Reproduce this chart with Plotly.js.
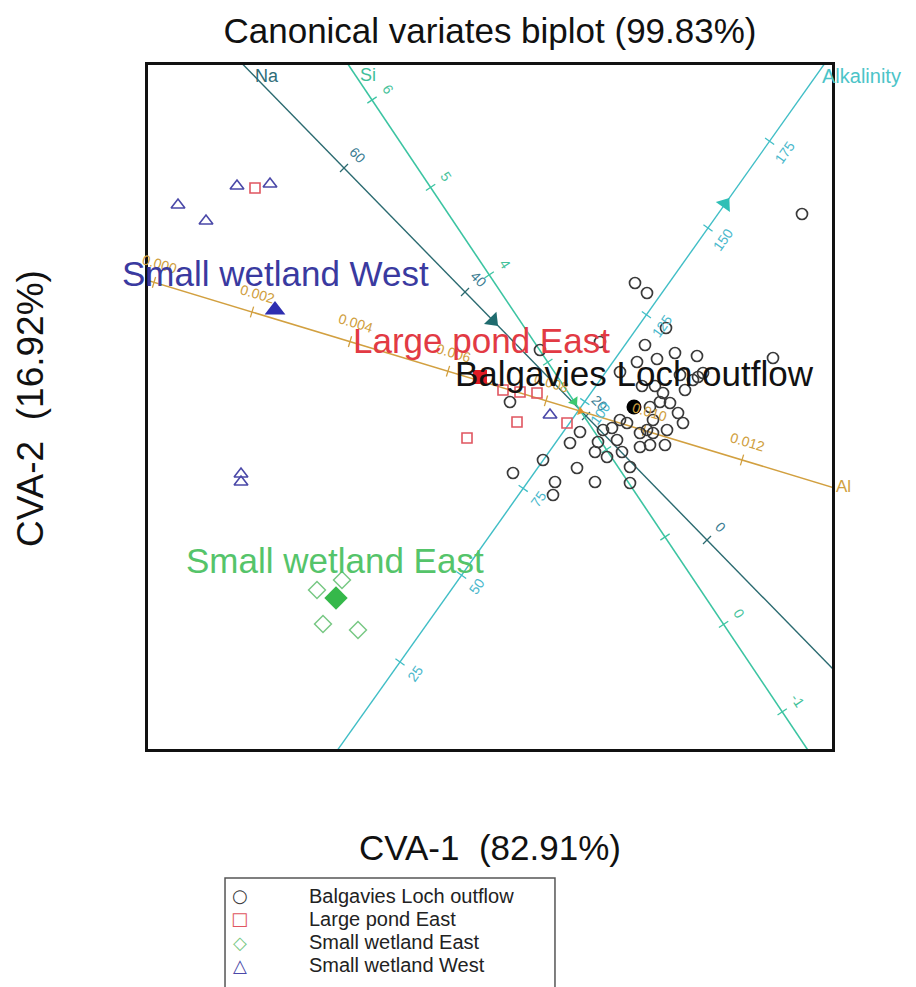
<!DOCTYPE html>
<html>
<head>
<meta charset="utf-8">
<script src="https://cdn.plot.ly/plotly-3.0.1.min.js"></script>
<style>html,body{margin:0;padding:0;background:#fff;}</style>
</head>
<body>
<div id="chart" style="width:916px;height:987px;"></div>
<script>
// ---- Sample scores (CVA-1, CVA-2) ----
const bloX = [3.12,1.45,1.57,1.76,1.55,1.10,0.50,1.47,1.67,1.85,2.07,2.83,1.30,1.90,2.08,1.52,1.65,1.73,1.95,2.13,0.20,1.80,1.70,1.88,1.93,1.63,1.37,1.30,1.13,1.22,1.50,1.63,1.77,1.57,1.08,1.50,1.60,1.05,1.17,1.32,1.40,1.40,1.05,0.87,0.65,0.63,0.53,0.23,2.03,0.90,0.80,1.60,1.75,1.27];
const bloY = [1.93,1.24,1.14,0.79,0.62,0.65,0.57,0.45,0.48,0.54,0.51,0.49,0.35,0.32,0.30,0.21,0.21,0.14,0.17,0.34,0.05,0.04,0.05,-0.06,-0.16,-0.13,-0.16,-0.13,-0.23,-0.21,-0.26,-0.26,-0.23,-0.23,-0.35,-0.40,-0.38,-0.45,-0.50,-0.45,-0.60,-0.76,-0.75,-0.61,-0.75,-0.88,-0.53,-0.66,0.27,-0.25,-0.36,0.00,-0.38,-0.33];
const lpeX = [-2.35,0.13,0.30,0.47,0.27,-0.23,0.77];
const lpeY = [2.19,0.17,0.15,0.14,-0.15,-0.31,-0.16];
const sweX = [-1.73,-1.48,-1.67,-1.32];
const sweY = [-1.83,-1.73,-2.17,-2.23];
const swwX = [-2.53,-2.20,-3.12,-2.84,-2.49,-2.49,0.60];
const swwY = [2.21,2.23,2.02,1.86,-0.67,-0.75,-0.08];

// ---- Group means ----
const groups = ['Balgavies Loch outflow','Large pond East','Small wetland East','Small wetland West'];
const meanX = [1.44,-0.10,-1.54,-2.15];
const meanY = [0.00,0.30,-1.91,0.97];
const groupLabelX = [1.44,-0.09,-1.55,-2.15];
const groupLabelY = [0.34,0.67,-1.53,1.34];

// ---- Biplot axes (calibrated variable axes) ----
const naTicks = [0,20,40,60];
const naLabels = ['0','20','40','60'];
const naOrigin = [2.17,-1.33], naStep = [-0.0605,0.062], naRange = [-30,90], naArrow = 35.4;

const siTicks = [-1,0,1,2,3,4,5,6];
const siLabels = ['-1','0','','','','4','5','6'];
const siOrigin = [2.336,-2.174], siStep = [-0.586,0.874], siRange = [-2,8], siArrow = 2.55;

const alkTicks = [25,50,75,100,125,150,175];
const alkLabels = ['25','50','75','100','125','150','175'];
const alkOrigin = [-1.516,-3.418], alkStep = [0.02464,0.03472], alkRange = [-10,197.5], alkArrow = 156.9;

const alTicks = [0,0.002,0.004,0.006,0.008,0.010,0.012];
const alLabels = ['0.000','0.002','0.004','0.006','0.008','0.010','0.012'];
const alOrigin = [-3.36,1.246], alStep = [490,-148], alRange = [-0.0005,0.0145], alArrow = 0.0087;

const FONT = 'Liberation Sans, Arial, Helvetica, sans-serif';

function pt(o,s,v){ return [o[0]+s[0]*v, o[1]+s[1]*v]; }
function screenAngle(s){ // clockwise degrees, normalised to (-90,90]
  let a = Math.atan2(-s[1], s[0])*180/Math.PI;
  while (a > 90) a -= 180;
  while (a <= -90) a += 180;
  return a;
}

const biAxes = [
  {name:'Na', ticks:naTicks, labels:naLabels, o:naOrigin, s:naStep, r:naRange, arrow:naArrow, line:'#2b6a70', text:'#3a7c92', width:1.4, side:1, arrowDir:1, arrowSize:15, arrowColor:'#1f6b6e',
   nameVal:75.5, nameShiftX:17, nameShiftY:-4, nameAnchor:'center', nameColor:'#2f6d78', nameSize:18},
  {name:'Si', ticks:siTicks, labels:siLabels, o:siOrigin, s:siStep, r:siRange, arrow:siArrow, line:'#3cc4a2', text:'#44c29a', width:1.6, side:1, arrowDir:1, arrowSize:10, arrowColor:'#3cc870',
   nameVal:6.35, nameShiftX:17, nameShiftY:-6, nameAnchor:'center', nameColor:'#3fbf9a', nameSize:18},
  {name:'Alkalinity', ticks:alkTicks, labels:alkLabels, o:alkOrigin, s:alkStep, r:alkRange, arrow:alkArrow, line:'#40bec6', text:'#4ab8cc', width:1.4, side:1, arrowDir:-1, arrowSize:15, arrowColor:'#2fbfb6',
   nameVal:196.3, nameShiftX:-2, nameShiftY:-9, nameAnchor:'left', nameColor:'#4cc4c8', nameSize:20},
  {name:'Al', ticks:alTicks, labels:alLabels, o:alOrigin, s:alStep, r:alRange, arrow:alArrow, line:'#d2a040', text:'#d0a040', width:1.5, side:-1, arrowDir:-1, arrowSize:8, arrowColor:'#e0902a',
   nameVal:0.0138, nameShiftX:4, nameShiftY:0, nameAnchor:'left', nameColor:'#d0a040', nameSize:17}
];

const traces = [];
const annotations = [];

biAxes.forEach(ax => {
  const ang = screenAngle(ax.s);
  const a = pt(ax.o, ax.s, ax.r[0]), b = pt(ax.o, ax.s, ax.r[1]);
  traces.push({x:[a[0],b[0]], y:[a[1],b[1]], mode:'lines', line:{color:ax.line, width:ax.width}, hoverinfo:'skip'});
  const tp = ax.ticks.map(v => pt(ax.o, ax.s, v));
  traces.push({x:tp.map(p=>p[0]), y:tp.map(p=>p[1]), mode:'markers', hoverinfo:'skip',
    marker:{symbol:'line-ns', size:8, angle:ang, line:{color:ax.line, width:1.3}}});
  const ap = pt(ax.o, ax.s, ax.arrow);
  const dsx = ax.s[0]*(-ax.arrowDir), dsy = -ax.s[1]*(-ax.arrowDir);
  const phi = Math.atan2(dsy, dsx)*180/Math.PI;
  traces.push({x:[ap[0]], y:[ap[1]], mode:'markers', hoverinfo:'skip',
    marker:{symbol:'triangle-up', size:ax.arrowSize, angle:phi+90, color:ax.arrowColor, line:{width:0}}});
  const len = Math.hypot(ax.s[0], ax.s[1]);
  const px = ax.side*ax.s[1]/len, py = -ax.side*ax.s[0]/len;
  ax.ticks.forEach((v,i) => {
    if (!ax.labels[i]) return;
    const p = pt(ax.o, ax.s, v);
    annotations.push({x:p[0]+px*0.19, y:p[1]+py*0.19, xref:'x', yref:'y', text:ax.labels[i], showarrow:false,
      xanchor:'center', yanchor:'middle', textangle:ang, font:{family:FONT, size:14, color:ax.text}});
  });
  const np = pt(ax.o, ax.s, ax.nameVal);
  annotations.push({x:np[0], y:np[1], xref:'x', yref:'y', text:ax.name, showarrow:false, xanchor:ax.nameAnchor, yanchor:'middle',
    xshift:ax.nameShiftX, yshift:ax.nameShiftY, font:{family:FONT, size:ax.nameSize, color:ax.nameColor}});
});

// samples
traces.push({x:bloX, y:bloY, mode:'markers', hoverinfo:'skip',
  marker:{symbol:'circle-open', size:11, line:{width:1.7}, color:'#3a3a3a'}});
traces.push({x:lpeX, y:lpeY, mode:'markers', hoverinfo:'skip',
  marker:{symbol:'square-open', size:10, line:{width:1.6}, color:'#e05560'}});
traces.push({x:sweX, y:sweY, mode:'markers', hoverinfo:'skip',
  marker:{symbol:'diamond-open', size:13, line:{width:1.5}, color:'#78c884'}});
traces.push({x:swwX, y:swwY, mode:'markers', hoverinfo:'skip',
  marker:{symbol:'triangle-up-open', size:12, line:{width:1.6}, color:'#4a48a8'}});

// means
const meanSym = ['circle','square','diamond','triangle-up'];
const meanCol = ['#000000','#e01b24','#35b84a','#2e2eb0'];
const meanSize = [15,14,18,18];
const labelCol = ['#111111','#e23a44','#55c46a','#3a3aa0'];
groups.forEach((g,i) => {
  traces.push({x:[meanX[i]], y:[meanY[i]], mode:'markers', hoverinfo:'skip',
    marker:{symbol:meanSym[i], size:meanSize[i], color:meanCol[i], line:{width:0}}});
  annotations.push({x:groupLabelX[i], y:groupLabelY[i], xref:'x', yref:'y', text:g, showarrow:false,
    xanchor:'center', yanchor:'middle', font:{family:FONT, size:35, color:labelCol[i]}});
});

// axis titles
annotations.push({x:0.5, y:-0.1447, xref:'paper', yref:'paper', text:'CVA-1\u00a0\u00a0(82.91%)', showarrow:false,
  xanchor:'center', yanchor:'middle', font:{family:FONT, size:35, color:'#111'}});
annotations.push({x:-0.1725, y:0.497, xref:'paper', yref:'paper', text:'CVA-2\u00a0\u00a0(16.92%)', showarrow:false, textangle:-90,
  xanchor:'center', yanchor:'middle', font:{family:FONT, size:37, color:'#111'}});

// manual legend
const legSym = ['\u25CB','\u25A1','\u25C7','\u25B3'];
const legCol = ['#3a3a3a','#e05560','#78c884','#4a48a8'];
const legY = [-0.2149,-0.2485,-0.2822,-0.3158];
groups.forEach((g,i) => {
  annotations.push({x:0.1345, y:legY[i], xref:'paper', yref:'paper', text:legSym[i], showarrow:false,
    xanchor:'center', yanchor:'middle', font:{family:'DejaVu Sans, sans-serif', size:18, color:legCol[i]}});
  annotations.push({x:0.2325, y:legY[i], xref:'paper', yref:'paper', text:g, showarrow:false, xanchor:'left', yanchor:'middle',
    font:{family:FONT, size:20, color:'#222'}});
});

const layout = {
  width:916, height:987,
  margin:{l:148, r:84, t:65, b:238},
  paper_bgcolor:'#ffffff', plot_bgcolor:'#ffffff',
  showlegend:false,
  title:{text:'Canonical variates biplot (99.83%)', x:0.5, xref:'paper', y:1-31/987, yref:'container', yanchor:'middle',
    font:{family:FONT, size:35, color:'#111'}},
  xaxis:{range:[-3.42,3.42], showgrid:false, zeroline:false, showticklabels:false, ticks:'',
    showline:true, mirror:true, linecolor:'#111', linewidth:3, fixedrange:true},
  yaxis:{range:[-3.42,3.42], showgrid:false, zeroline:false, showticklabels:false, ticks:'',
    showline:true, mirror:true, linecolor:'#111', linewidth:3, fixedrange:true},
  annotations: annotations,
  shapes:[{type:'rect', xref:'paper', yref:'paper', x0:0.1126, x1:0.595, y0:-0.40, y1:-0.1886,
    line:{color:'#555', width:1.5}, fillcolor:'rgba(0,0,0,0)'}]
};

Plotly.newPlot('chart', traces, layout, {staticPlot:true, displayModeBar:false});
</script>
</body>
</html>
